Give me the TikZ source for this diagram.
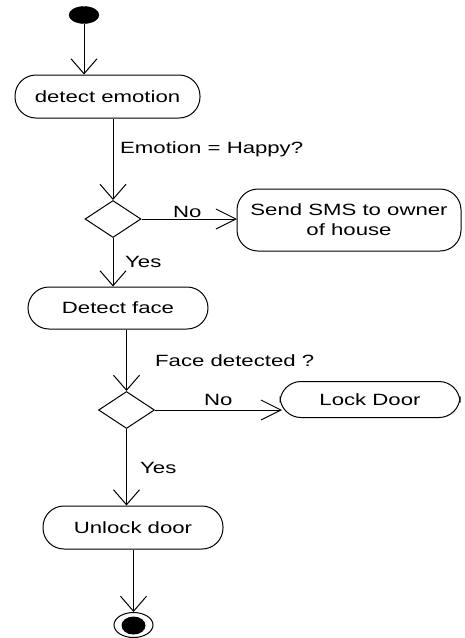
\documentclass[tikz,border=0pt]{standalone}
\usepackage{fontspec}
\setmainfont{Liberation Sans}[FakeStretch=1.36]
\usetikzlibrary{arrows.meta,shapes.geometric,calc}

\tikzset{
  flow/.style={line width=1pt, draw=black},
  vbarb/.style={flow, -{Straight Barb[length=15pt, width=26pt, line width=1pt]}},
  hbarb/.style={flow, -{Straight Barb[length=20pt, width=20pt, line width=1pt]}},
  actbox/.style={draw=black, line width=1pt, fill=white, rectangle,
    rounded corners=21pt, inner sep=0pt, align=center,
    font=\fontsize{16.3}{20}\selectfont},
  decide/.style={draw=black, line width=1pt, fill=white, diamond,
    inner sep=0pt, minimum width=56pt, minimum height=37pt, aspect=1.5},
  guard/.style={inner sep=0pt, anchor=base west,
    font=\fontsize{16.3}{20}\selectfont},
}

\begin{document}
\begin{tikzpicture}[x=1pt, y=-1pt]
  \useasboundingbox (0,0) rectangle (464,638);

  % initial and final states
  \node[ellipse, fill=black, draw=black, minimum width=30pt, minimum height=17pt, inner sep=0pt] (start) at (84,15) {};
  \node[ellipse, draw=black, line width=1pt, fill=white, minimum width=39pt, minimum height=25pt, inner sep=0pt] (fin) at (133.5,625) {};
  \node[ellipse, fill=black, minimum width=24pt, minimum height=18pt, inner sep=0pt] (finin) at (133.5,625.5) {};

  % activities
  \node[actbox, minimum width=185pt, minimum height=43pt] (emo) at (107.5,96.5) {detect emotion};
  \node[actbox, minimum width=224pt, minimum height=62pt] (sms) at (349,220) {Send SMS to owner\\of house};
  \node[actbox, minimum width=180pt, minimum height=42pt] (face) at (118,308) {Detect face};
  \node[actbox, minimum width=180pt, minimum height=36pt] (lock) at (370,399.5) {Lock Door};
  \node[actbox, minimum width=180pt, minimum height=43pt] (unlock) at (133,527.5) {Unlock door};

  % decisions
  \node[decide] (d1) at (113,219) {};
  \node[decide] (d2) at (126.5,410) {};

  % flows
  \draw[vbarb] (start.south) -- (start.south |- emo.north);
  \draw[vbarb] (d1.north |- emo.south) -- (d1.north);
  \draw[hbarb] (d1.east) -- ($(sms.west |- d1.east)+(0.5,0)$);
  \draw[vbarb] (d1.south) -- (d1.south |- face.north);
  \draw[vbarb] (d2.north |- face.south) -- (d2.north);
  \draw[hbarb] (d2.east) -- ($(lock.west |- d2.east)+(2.5,0)$);
  \draw[vbarb] (d2.south) -- (d2.south |- unlock.north);
  \draw[vbarb] (fin.north |- unlock.south) -- (fin.north);

  % guards
  \node[guard] (gEmo) at (120,153.5) {Emotion = Happy?};
  \node[guard] (gNo1) at (173,217) {No};
  \node[guard] (gYes1) at (125,267) {Yes};
  \node[guard] (gFace) at (155,366) {Face detected ?};
  \node[guard] (gNo2) at (204,405) {No};
  \node[guard] (gYes2) at (140,473) {Yes};
\end{tikzpicture}
\end{document}
